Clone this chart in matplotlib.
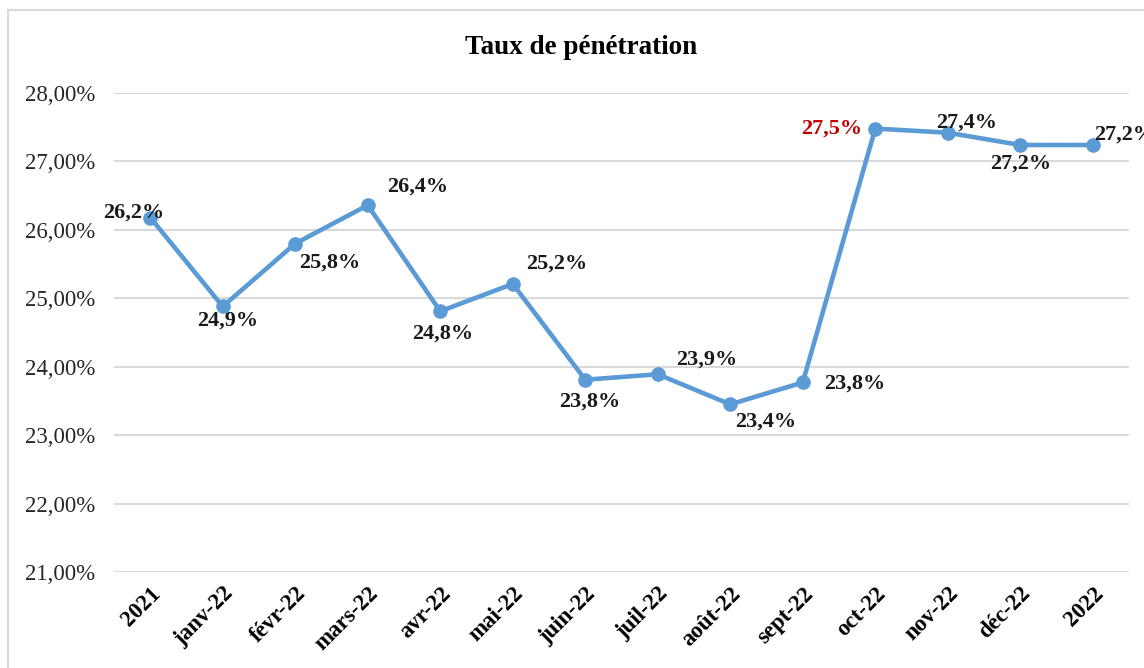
import matplotlib.pyplot as plt
from matplotlib.patches import Rectangle
from matplotlib.ticker import FuncFormatter

plt.rcParams['font.family'] = ['Liberation Serif', 'DejaVu Serif']

# data
months = ['2021', 'janv-22', 'févr-22', 'mars-22', 'avr-22', 'mai-22', 'juin-22',
          'juil-22', 'août-22', 'sept-22', 'oct-22', 'nov-22', 'déc-22', '2022']
rate = [26.18, 24.88, 25.80, 26.36, 24.81, 25.21, 23.81,
        23.89, 23.45, 23.77, 27.48, 27.42, 27.24, 27.24]

# label offsets in pixels (dx, dy)
offsets = [(-17, 5), (5, -14), (34, -19), (50, 19), (2, -22), (44, 20), (5, -22),
           (49, 15), (35, -17), (52, -1), (-44, 0), (19, 10), (0, -19), (32, 10)]

fig = plt.figure(figsize=(11.44, 6.68), dpi=100)
ax = fig.add_axes([114 / 1144, 1 - 572 / 668, 1015 / 1144, 479 / 668])

x = range(len(months))
ax.plot(x, rate, color='#5B9BD5', lw=3.3, marker='o', ms=9.5, zorder=3)

for i, v in enumerate(rate):
    col = '#C00000' if months[i] == 'oct-22' else '#1a1a1a'
    ax.annotate(f'{v:.1f}%'.replace('.', ','), (i, v), xytext=offsets[i],
                textcoords='offset pixels', ha='center', va='center',
                fontsize=16, fontweight='bold', color=col, zorder=4,
                annotation_clip=False)

ax.set_xlim(-0.5, len(months) - 0.5)
ax.set_ylim(21, 28)
ax.set_yticks(range(21, 29))
ax.yaxis.set_major_formatter(FuncFormatter(lambda v, p: f'{v:.2f}%'.replace('.', ',')))
ax.set_xticks(list(x))
ax.set_xticklabels(months, rotation=45, ha='right', rotation_mode='anchor',
                   fontsize=16.5, fontweight='bold')
ax.tick_params(axis='both', length=0)
ax.tick_params(axis='y', labelsize=16.5, colors='#262626', pad=13.5)
ax.tick_params(axis='x', pad=8)
ax.grid(axis='y', color='#D9D9D9', lw=1.5)
ax.set_axisbelow(True)
for s in ax.spines.values():
    s.set_visible(False)

fig.text(0.508, 1 - 47 / 668, 'Taux de pénétration', ha='center', va='center',
         fontsize=19.5, fontweight='bold')

fig.patches.append(Rectangle((8 / 1144, -0.01), 1.1, 1 - 10 / 668 + 0.01,
                             transform=fig.transFigure, fill=False,
                             edgecolor='#D9D9D9', lw=1.5))

fig.savefig('out.png', dpi=100)
